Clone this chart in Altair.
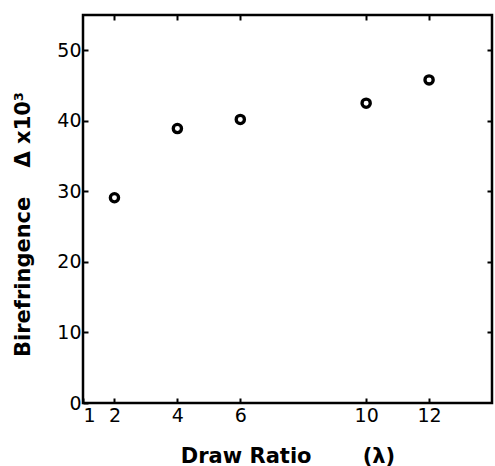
import altair as alt
import pandas as pd

draw_ratio = [2, 4, 6, 10, 12]
birefringence = [29.1, 38.9, 40.2, 42.5, 45.8]
x_tick_values = [1, 2, 4, 6, 10, 12]
y_tick_values = [0, 10, 20, 30, 40, 50]

df = pd.DataFrame({"x": draw_ratio, "y": birefringence})

LFONT = "DejaVu Sans"
TFONT = "DejaVu Sans"
NB = "\u00a0"
xscale = alt.Scale(domain=[1, 14], nice=False, zero=False)
yscale = alt.Scale(domain=[0, 55], nice=False)

common = dict(domain=False, grid=False, tickColor="black", tickWidth=2,
              tickSize=5, offset=-5, labelFont=LFONT, labelFontSize=19,
              labelColor="black", titleFont=TFONT, titleFontWeight="bold",
              titleColor="black", titleFontSize=21)

bottom_axis = alt.Axis(orient="bottom", values=x_tick_values, labelPadding=3,
                       title="Draw Ratio" + NB * 7 + "(λ)",
                       titlePadding=20, labelAngle=0, **common)
left_axis = alt.Axis(orient="left", values=y_tick_values, labelPadding=2,
                     title="Birefringence" + NB * 4 + "Δ x10³",
                     titleX=-55, titleY=209, titleBaseline="bottom",
                     titleAngle=270, **common)
top_axis = alt.Axis(orient="top", values=x_tick_values[1:], labels=False,
                    title=None, domain=False, grid=False, tickColor="black",
                    tickWidth=2, tickSize=5, offset=-5)
right_axis = alt.Axis(orient="right", values=y_tick_values[1:], labels=False,
                      title=None, domain=False, grid=False, tickColor="black",
                      tickWidth=2, tickSize=5, offset=-5)

points = alt.Chart(df).mark_point(
    shape="circle", filled=False, color="black", size=68, strokeWidth=3.3, opacity=1
).encode(
    x=alt.X("x:Q", scale=xscale, axis=bottom_axis),
    y=alt.Y("y:Q", scale=yscale, axis=left_axis),
)

mirror = alt.Chart(df).mark_point(opacity=0).encode(
    x=alt.X("x:Q", scale=xscale, axis=top_axis),
    y=alt.Y("y:Q", scale=yscale, axis=right_axis),
)

chart = alt.layer(points, mirror).resolve_axis(
    x="independent", y="independent"
).properties(
    width=409, height=388,
    background="white",
    autosize=alt.AutoSizeParams(type="none"),
    padding={"left": 83, "top": 15, "right": 3, "bottom": 63},
).configure_view(
    stroke="black", strokeWidth=2.5
)

chart.save("out.html", embed_options={"renderer": "svg", "actions": False})
